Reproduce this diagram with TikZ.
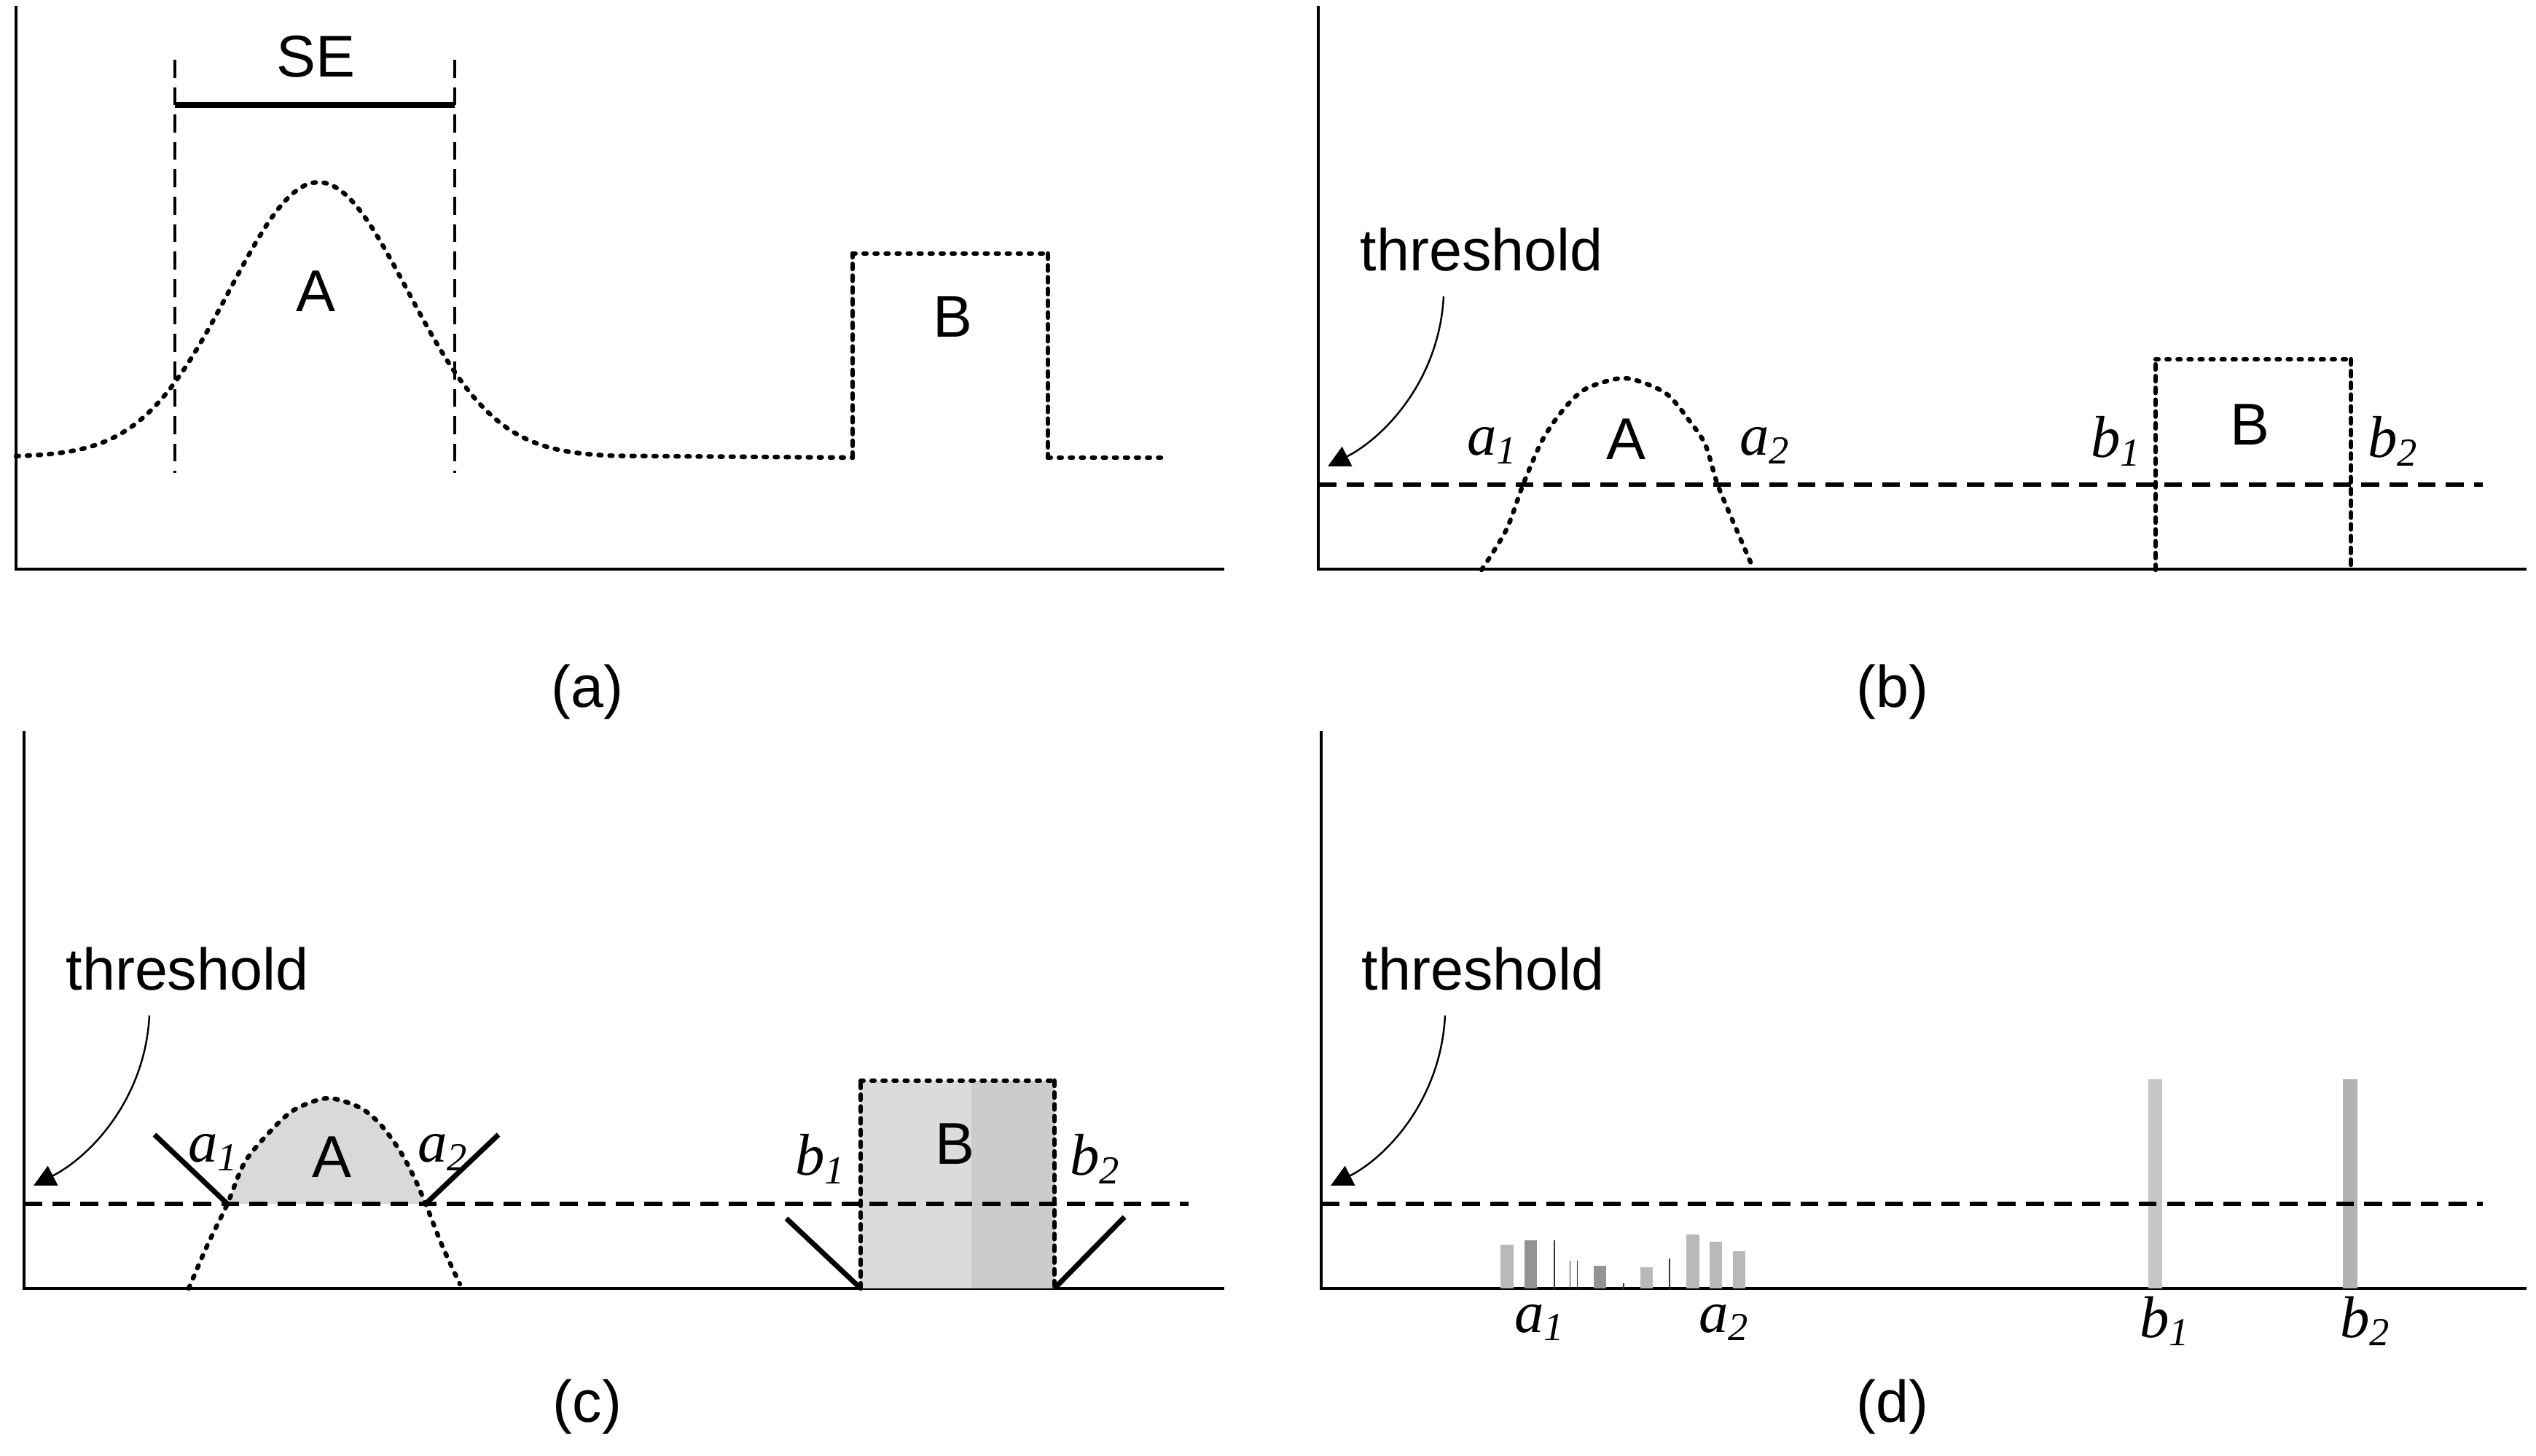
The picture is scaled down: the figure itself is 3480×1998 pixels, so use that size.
\documentclass[tikz,border=0pt]{standalone}
\usepackage{fontspec}
\setmainfont{Liberation Sans}
\newfontfamily\tms{Liberation Serif}
\usetikzlibrary{positioning, arrows.meta, calc, patterns}
\newcommand{\idx}[2]{{\tms\itshape #1\raisebox{-3.4pt}{\fontsize{15.5}{16}\selectfont #2}}}
\tikzset{
  axisline/.style={line width=1pt},
  sig/.style={line width=1.8pt, line cap=round, dash pattern=on 1.1pt off 3.2pt},
  sigside/.style={line width=1.8pt, line cap=round, dash pattern=on 2pt off 2.6pt},
  thr/.style={line width=1.6pt, dash pattern=on 7pt off 4pt},
  sedash/.style={line width=1pt, dash pattern=on 7pt off 3.7pt},
  vmark/.style={line width=2pt},
  lab/.style={font=\fontsize{23}{27}\selectfont, inner sep=0pt},
  idxlab/.style={font=\fontsize{23}{27}\selectfont, inner sep=0pt, anchor=base},
  pointer/.style={line width=0.7pt, -{Triangle[length=8.5pt,width=8.5pt]}},
  midbar/.style={fill=gray!55},
  darkbar/.style={fill=gray!85},
  linebar/.style={pattern=vertical lines, pattern color=black!80}
}

\begin{document}
\begin{tikzpicture}[x=0.01cm, y=-0.01cm]
  \useasboundingbox (0,0) rectangle (3480,1998);

  % (a)
  \draw[axisline] (22,8) -- (22,781) -- (1680,781);
  \draw[sedash] (240,82) -- (240,649) (624,82) -- (624,649);
  \draw[line width=2pt] (240,144) -- (624,144);
  \node[lab] (se) at (433,78) {SE};
  \draw[sig] plot[domain=22:843, samples=90] (\x,{627-377*exp(-0.5*((\x-437)/122)^2)}) -- (1170,628);
  \draw[sigside] (1170,628) -- (1170,348) (1438,348) -- (1438,628);
  \draw[sig] (1170,348) -- (1438,348) (1438,628) -- (1602,628);
  \node[lab] (pa) at (433,400) {A};
  \node[lab] (pb) at (1307,435) {B};
  \node[lab] (capa) at (806,950) {(a)};

  % (b)
  \draw[axisline] (1809,8) -- (1809,781) -- (3467,781);
  \draw[thr] (1809,665) -- (3407,665);
  \draw[sig] plot[smooth] coordinates {(2033,782) (2067,727) (2090,665) (2117,603) (2147,560) (2177,533) (2225,519) (2260,527) (2290,543) (2318,577) (2340,610) (2357,665) (2383,727) (2405,778)};
  \draw[sigside] (2958,782) -- (2958,493) (3226,493) -- (3226,782);
  \draw[sig] (2958,493) -- (3226,493);
  \node[idxlab] (ba1) at (2047,625) {\idx{a}{1}};
  \node[idxlab] (ba2) at (2421,625) {\idx{a}{2}};
  \node[idxlab] (bb1) at (2903,628) {\idx{b}{1}};
  \node[idxlab] (bb2) at (3283,628) {\idx{b}{2}};
  \node[lab] (bA) at (2231,603) {A};
  \node[lab] (bB) at (3087,583) {B};
  \node[idxlab] (thrb) at (2033,372) {threshold};
  \coordinate (tipb) at (1822,640);
  \draw[pointer] ([shift={(-52,33)}]thrb.south) .. controls +(-6,115) and +(78,-40) .. (tipb);
  \node[lab] (capb) at (2597,950) {(b)};

  % (c)
  \draw[axisline] (33,1003) -- (33,1768) -- (1680,1768);
  \begin{scope}
    \clip (33,1003) rectangle (1680,1652);
    \fill[gray!30] plot[smooth] coordinates {(259,1768) (284,1710) (312,1652) (337,1593) (380,1543) (409,1520) (451,1507) (494,1520) (522,1543) (548,1578) (568,1615) (584,1652) (607,1710) (631,1762)} -- cycle;
  \end{scope}
  \fill[gray!28] (1181,1483) rectangle (1333,1768);
  \fill[gray!40] (1333,1483) rectangle (1447,1768);
  \draw[thr] (33,1652) -- (1631,1652);
  \draw[sig] plot[smooth] coordinates {(259,1768) (284,1710) (312,1652) (337,1593) (380,1543) (409,1520) (451,1507) (494,1520) (522,1543) (548,1578) (568,1615) (584,1652) (607,1710) (631,1762)};
  \draw[sigside] (1181,1768) -- (1181,1483) (1447,1483) -- (1447,1768);
  \draw[sig] (1181,1483) -- (1447,1483);
  \draw[vmark] (212,1557) -- (312,1652) (584,1652) -- (684,1557);
  \draw[vmark] (1079,1672) -- (1181,1768) (1447,1768) -- (1543,1670);
  \node[idxlab] (ca1) at (292,1595) {\idx{a}{1}};
  \node[idxlab] (ca2) at (607,1595) {\idx{a}{2}};
  \node[idxlab] (cb1) at (1125,1613) {\idx{b}{1}};
  \node[idxlab] (cb2) at (1502,1613) {\idx{b}{2}};
  \node[lab] (cA) at (455,1588) {A};
  \node[lab] (cB) at (1310,1570) {B};
  \node[idxlab] (thrc) at (257,1359) {threshold};
  \coordinate (tipc) at (46,1627);
  \draw[pointer] ([shift={(-52,33)}]thrc.south) .. controls +(-6,115) and +(78,-40) .. (tipc);
  \node[lab] (capc) at (806,1931) {(c)};

  % (d)
  \draw[axisline] (1813,1003) -- (1813,1768) -- (3467,1768);
  \foreach \l/\r/\t/\s in {2059/2077/1708/midbar, 2092/2109/1702/darkbar, 2123/2140/1703/linebar,
      2154/2171/1730/linebar, 2187/2204/1737/darkbar, 2222/2233/1761/linebar, 2251/2268/1739/midbar,
      2286/2297/1727/linebar, 2314/2332/1694/midbar, 2346/2363/1704/midbar, 2378/2395/1717/midbar}
    \path[\s] (\l,1768) rectangle (\r,\t);
  \fill[gray!45] (2948,1481) rectangle (2967,1768);
  \fill[gray!60] (3215,1481) rectangle (3235,1768);
  \draw[thr] (1813,1652) -- (3407,1652);
  \node[idxlab] (da1) at (2112,1828) {\idx{a}{1}};
  \node[idxlab] (da2) at (2365,1828) {\idx{a}{2}};
  \node[idxlab] (db1) at (2970,1835) {\idx{b}{1}};
  \node[idxlab] (db2) at (3245,1835) {\idx{b}{2}};
  \node[idxlab] (thrd) at (2035,1359) {threshold};
  \coordinate (tipd) at (1826,1627);
  \draw[pointer] ([shift={(-52,33)}]thrd.south) .. controls +(-6,115) and +(78,-40) .. (tipd);
  \node[lab] (capd) at (2597,1931) {(d)};
\end{tikzpicture}
\end{document}
